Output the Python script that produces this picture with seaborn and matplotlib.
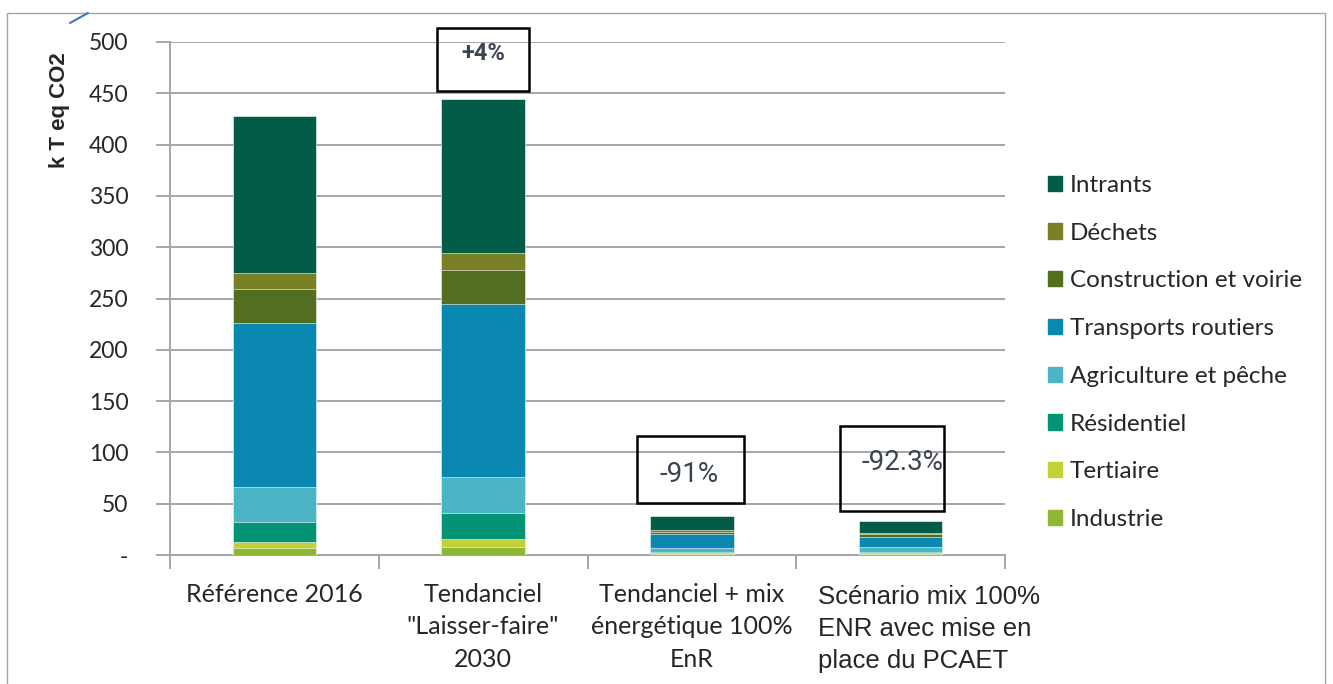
import numpy as np
import pandas as pd
import matplotlib
matplotlib.use("Agg")
import matplotlib.pyplot as plt
from matplotlib.patches import Rectangle
from matplotlib.lines import Line2D
import seaborn as sns

# donnees (k T eq CO2)
scenarios = ["Référence 2016", "Tendanciel\n\"Laisser-faire\"\n2030",
             "Tendanciel + mix\nénergétique 100%\nEnR", "Scénario mix 100%\nENR avec mise en\nplace du PCAET"]
secteurs = ["Industrie", "Tertiaire", "Résidentiel", "Agriculture et pêche",
            "Transports routiers", "Construction et voirie", "Déchets", "Intrants"]
industrie = [7, 8, 1.2, 1]
tertiaire = [6, 8, 0.7, 0.5]
residentiel = [19.5, 24.5, 1.5, 1.5]
agriculture = [34, 35.5, 3, 4.5]
transports = [160, 169, 14, 10]
construction = [32.5, 33, 2.5, 3]
dechets = [16, 16, 1.5, 1.3]
intrants = [153, 150.5, 13.6, 11]
evolutions = ["+4%", "-91%", "-92.3%"]

couleurs = {"Industrie": "#8CB834", "Tertiaire": "#C5CF3A", "Résidentiel": "#029475",
            "Agriculture et pêche": "#4BB5C6", "Transports routiers": "#0A88B2",
            "Construction et voirie": "#536E20", "Déchets": "#7A8025", "Intrants": "#025C48"}

valeurs = [industrie, tertiaire, residentiel, agriculture, transports, construction, dechets, intrants]
df = pd.DataFrame(dict(zip(secteurs, valeurs)), index=scenarios)
cumul = df.cumsum(axis=1)

sns.set_style("white")
plt.rcParams["font.family"] = ["Lato", "DejaVu Sans"]

W, H = 1333, 684
fig = plt.figure(figsize=(W / 100, H / 100), dpi=100)
ax = fig.add_axes([170 / W, 1 - 555 / H, (1005 - 170) / W, (555 - 42) / H])

# empilement : on dessine du haut vers le bas
for sect in secteurs[::-1]:
    sns.barplot(x=list(range(len(scenarios))), y=cumul[sect].values, color=couleurs[sect],
                width=0.4, ax=ax, native_scale=True, saturation=1, edgecolor="white",
                linewidth=0.4, zorder=3)

ax.set_xlim(-0.5, 3.5)
ax.set_ylim(0, 500)
ax.set_yticks(np.arange(0, 501, 50))
ax.set_yticklabels(["-"] + [str(v) for v in range(50, 501, 50)], fontsize=16.5)
ax.yaxis.grid(True, color="#A6A6A6", linewidth=1.4, zorder=0)
ax.set_axisbelow(True)
ax.tick_params(axis="y", length=10, width=1.4, color="#A6A6A6", pad=20, left=True)

# le dernier libelle est aligne a gauche dans l'original
ax.set_xticks(range(len(scenarios)))
ax.set_xticklabels(scenarios[:3] + [""], fontsize=18, linespacing=1.5)
ax.set_xticks(np.arange(-0.5, 3.6, 1), minor=True)
ax.tick_params(axis="x", which="major", length=0, pad=20)
ax.tick_params(axis="x", which="minor", length=10, width=1.4, color="#A6A6A6", bottom=True)
ax.set_xlabel("")
ax.set_ylabel("")
fig.text(818 / W, 1 - 585 / H, scenarios[3], ha="left", va="top", fontsize=18.5,
         family="Liberation Sans", linespacing=1.42)

for side in ["top", "right"]:
    ax.spines[side].set_visible(False)
for side in ["left", "bottom"]:
    ax.spines[side].set_color("#A6A6A6")
    ax.spines[side].set_linewidth(1.4)

fig.text(59 / W, 1 - 110 / H, "k T eq CO2", rotation=90, fontsize=16, fontweight="bold",
         ha="center", va="center", family="Liberation Sans")

# encadres d'evolution
boites = [(437, 28, 529, 91), (637, 436, 744, 503), (840, 426, 944, 511)]
centres = [(483, 53), (689, 474), (902, 463)]
for (x0, y0, x1, y1), (xc, yc), txt, gras in zip(boites, centres, evolutions, [True, False, False]):
    fig.add_artist(Rectangle((x0 / W, 1 - y1 / H), (x1 - x0) / W, (y1 - y0) / H,
                             transform=fig.transFigure, fill=False, edgecolor="black", linewidth=1.8))
    fig.text(xc / W, 1 - yc / H, txt, ha="center", va="center",
             fontsize=17 if gras else 20, fontweight="bold" if gras else "normal",
             family="Roboto", color="#3B4450")

# legende
poignees = [Rectangle((0, 0), 1, 1, color=couleurs[s]) for s in secteurs[::-1]]
fig.legend(poignees, secteurs[::-1], loc="upper left", bbox_to_anchor=(1026 / W, 1 - 153 / H),
           frameon=False, fontsize=17.5, handlelength=0.6, handleheight=0.6,
           handletextpad=0.3, labelspacing=1.1)

# cadre exterieur
fig.add_artist(Rectangle((7 / W, -0.05), (1325 - 7) / W, 1 - 13 / H + 0.05,
                         transform=fig.transFigure, fill=False, edgecolor="#A6A6A6", linewidth=1))
fig.add_artist(Line2D([70 / W, 88 / W], [1 - 23 / H, 1 - 13 / H], transform=fig.transFigure,
                      color="#4472C4", linewidth=1.5))

fig.savefig("out.png", dpi=100)
